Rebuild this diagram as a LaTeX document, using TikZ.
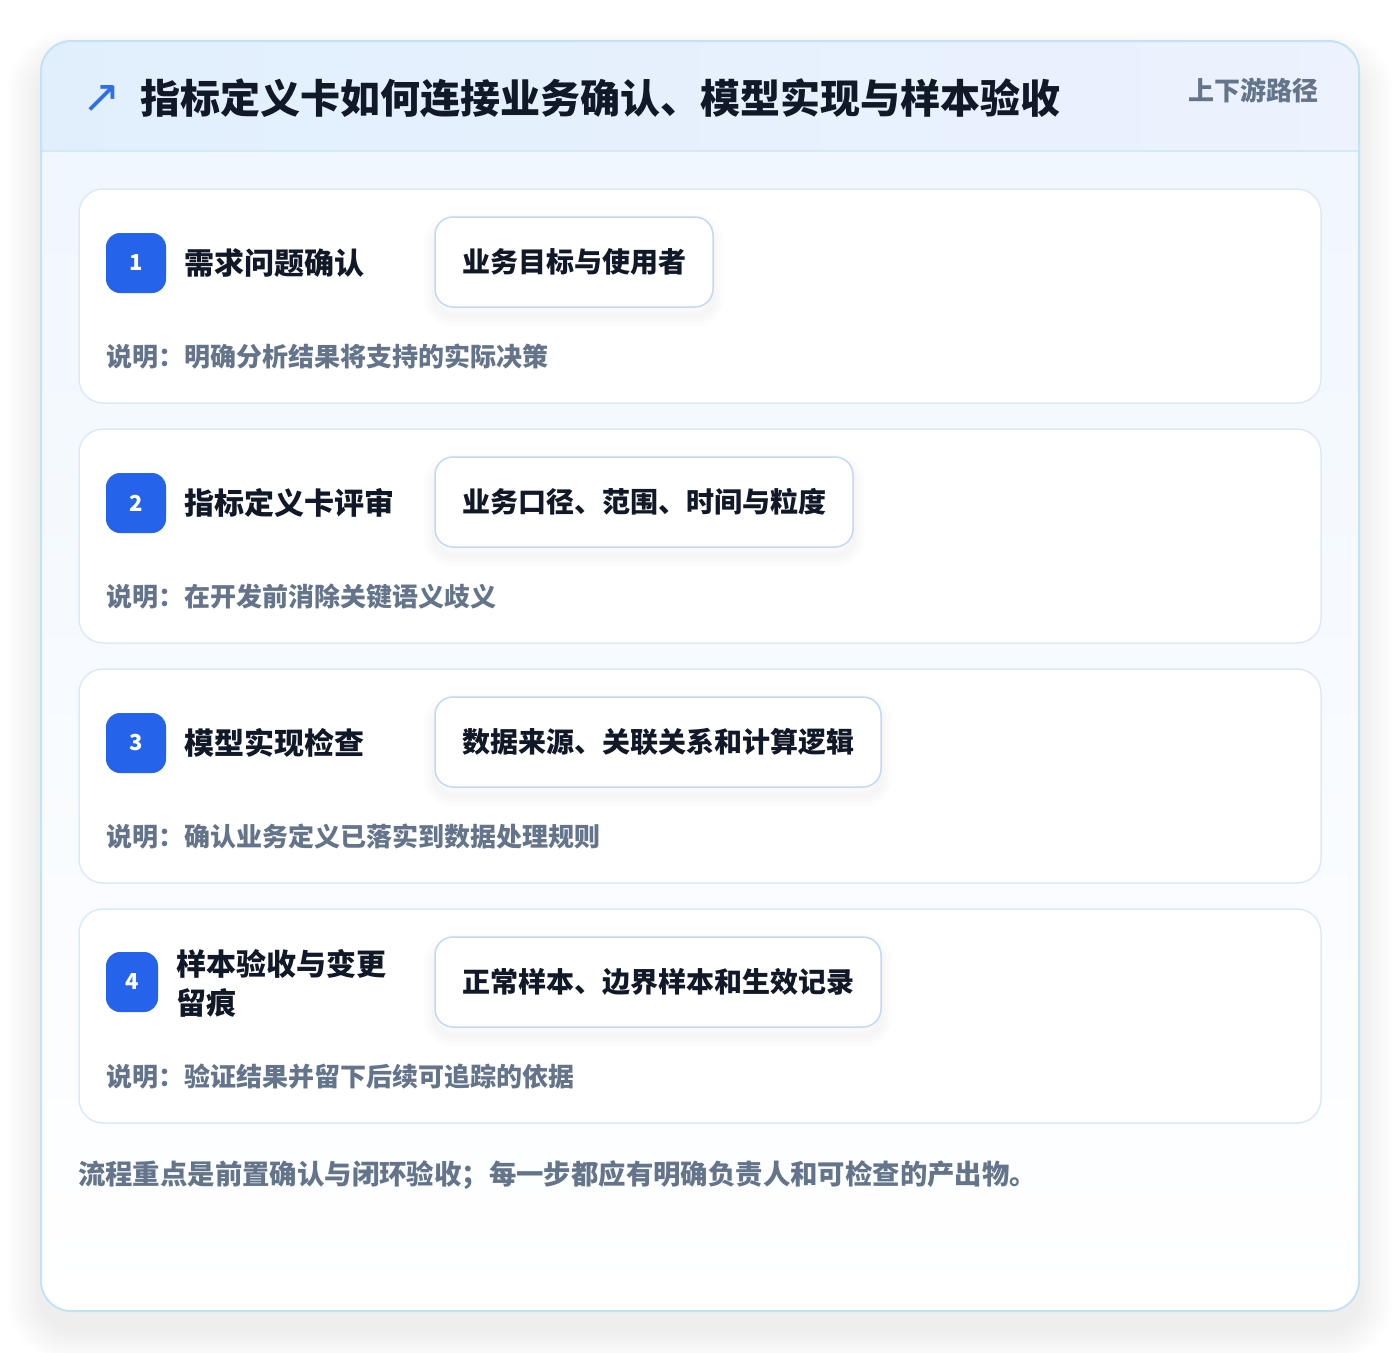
\documentclass[tikz,border=0pt]{standalone}
\usepackage{fontspec}
\setmainfont{Noto Sans CJK SC}
\newfontfamily\symfont{DejaVu Sans}
\usetikzlibrary{positioning}

\definecolor{frameline}{HTML}{C4E2F5}
\definecolor{headA}{HTML}{E1EFFD}
\definecolor{headB}{HTML}{ECF2FE}
\definecolor{headline}{HTML}{D5E7F8}
\definecolor{bodytop}{HTML}{EFF6FE}
\definecolor{cardline}{HTML}{DCEAF7}
\definecolor{pillline}{HTML}{C3D8F4}
\definecolor{badgeblue}{HTML}{2563EB}
\definecolor{ink}{HTML}{111827}
\definecolor{muted}{HTML}{64748B}
\definecolor{arrowblue}{HTML}{2F6FE6}

\begin{document}
\begin{tikzpicture}
[x=1pt,y=-1pt,node distance=26pt,every node/.style={inner sep=0pt,outer sep=0pt}]
  \tikzstyle{stepcard}=[draw=cardline,line width=1.5pt,fill=white,rounded corners=24pt,
    minimum width=1242pt,minimum height=214pt,anchor=north west]
  \tikzstyle{badge}=[fill=badgeblue,rounded corners=14pt,minimum width=60pt,minimum height=60pt,
    text=white,font=\bfseries\fontsize{22}{22}\selectfont]
  \tikzstyle{steptitle}=[anchor=west,text=ink,font=\bfseries\fontsize{30}{39}\selectfont]
  \tikzstyle{pill}=[anchor=west,draw=pillline,line width=1.5pt,fill=white,rounded corners=18pt,
    inner xsep=27pt,minimum height=90pt,text=ink,font=\bfseries\fontsize{28}{28}\selectfont,
    preaction={draw=black,draw opacity=0.012,line width=22pt,transform canvas={yshift=-8pt}},
    preaction={draw=black,draw opacity=0.012,line width=14pt,transform canvas={yshift=-8pt}},
    preaction={draw=black,draw opacity=0.012,line width=7pt,transform canvas={yshift=-8pt}}]
  \tikzstyle{note}=[anchor=west,text=muted,font=\bfseries\fontsize{26}{26}\selectfont]

  \useasboundingbox (0,0) rectangle (1400,1352);
  \fill[white] (0,0) rectangle (1400,1352);

  % soft shadow under the frame
  \foreach \r in {2,4,...,34}
    \fill[black,fill opacity=0.005,rounded corners=30pt+\r pt]
      (41-\r,41-\r+22) rectangle (1359+\r,1311+\r+18);

  % outer frame with header band
  \node[anchor=north west,minimum width=1318pt,minimum height=1270pt,rounded corners=30pt,
    top color=bodytop,bottom color=white] (frame) at (41,41) {};
  \begin{scope}
    \clip[rounded corners=30pt] (frame.north west) rectangle (frame.south east);
    \fill[left color=headA,right color=headB] (41,41) rectangle (1359,151);
  \end{scope}
  \draw[headline,line width=1.5pt] (41,151) -- (1359,151);
  \draw[frameline,line width=2pt,rounded corners=30pt] (frame.north west) rectangle (frame.south east);

  \node[text=arrowblue,font=\symfont\fontsize{46}{46}\selectfont] (icon) at (102,99) {↗};
  \node[anchor=west,text=ink,font=\bfseries\fontsize{40}{48}\selectfont] (title) at (140,98)
    {指标定义卡如何连接业务确认、模型实现与样本验收};
  \node[anchor=east,text=muted,font=\bfseries\fontsize{26}{26}\selectfont] (tag) at (1318,90) {上下游路径};

  % step cards
  \node[stepcard] (card1) at (79,189) {};
  \node[stepcard,below=of card1] (card2) {};
  \node[stepcard,below=of card2] (card3) {};
  \node[stepcard,below=of card3] (card4) {};

  \node[badge] (num1) at ([shift={(57,74)}]card1.north west) {1};
  \node[steptitle] (name1) at ([shift={(105,74)}]card1.north west) {需求问题确认};
  \node[pill] (out1) at ([shift={(356,73)}]card1.north west) {业务目标与使用者};
  \node[note] (note1) at ([shift={(27,168)}]card1.north west) {说明：明确分析结果将支持的实际决策};

  \node[badge] (num2) at ([shift={(57,74)}]card2.north west) {2};
  \node[steptitle] (name2) at ([shift={(105,74)}]card2.north west) {指标定义卡评审};
  \node[pill] (out2) at ([shift={(356,73)}]card2.north west) {业务口径、范围、时间与粒度};
  \node[note] (note2) at ([shift={(27,168)}]card2.north west) {说明：在开发前消除关键语义歧义};

  \node[badge] (num3) at ([shift={(57,74)}]card3.north west) {3};
  \node[steptitle] (name3) at ([shift={(105,74)}]card3.north west) {模型实现检查};
  \node[pill] (out3) at ([shift={(356,73)}]card3.north west) {数据来源、关联关系和计算逻辑};
  \node[note] (note3) at ([shift={(27,168)}]card3.north west) {说明：确认业务定义已落实到数据处理规则};

  \node[badge,minimum width=52pt] (num4) at ([shift={(53,73)}]card4.north west) {4};
  \node[steptitle,align=left] (name4) at ([shift={(97,74)}]card4.north west) {样本验收与变更\\留痕};
  \node[pill] (out4) at ([shift={(356,73)}]card4.north west) {正常样本、边界样本和生效记录};
  \node[note] (note4) at ([shift={(27,168)}]card4.north west) {说明：验证结果并留下后续可追踪的依据};

  \node[anchor=west,text=muted,font=\bfseries\fontsize{27.4}{27.4}\selectfont] (summary) at (78,1175)
    {流程重点是前置确认与闭环验收；每一步都应有明确负责人和可检查的产出物。};
\end{tikzpicture}
\end{document}
